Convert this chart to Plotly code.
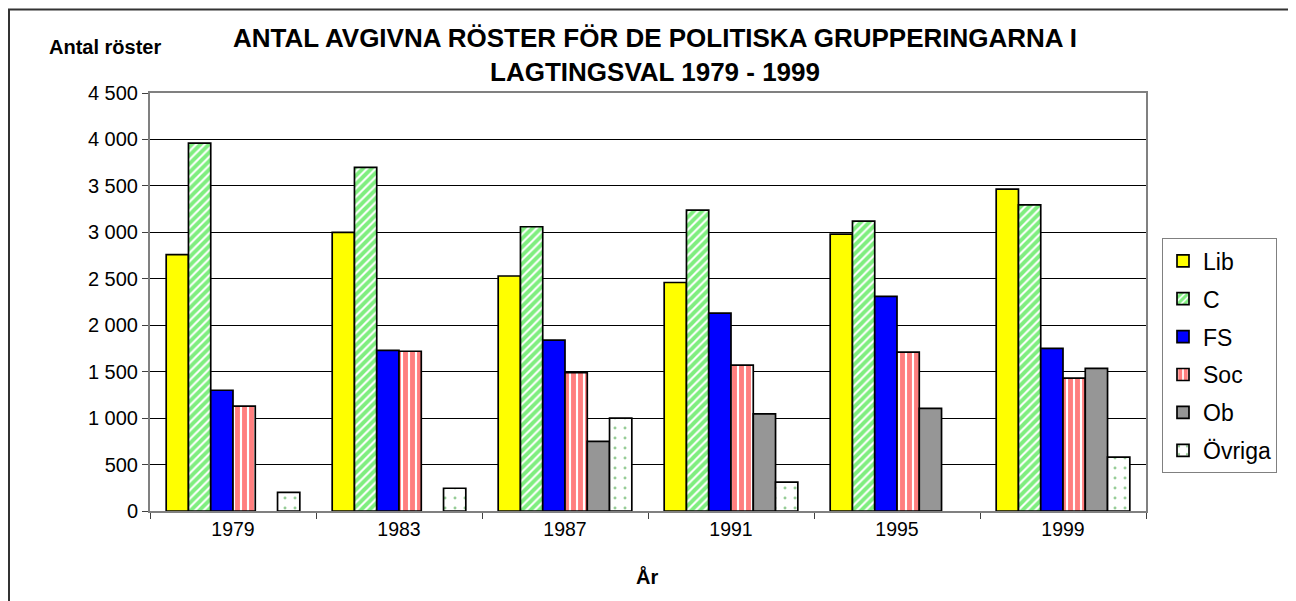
import plotly.graph_objects as go

years = ["1979", "1983", "1987", "1991", "1995", "1999"]
lib = [2760, 3000, 2530, 2460, 2980, 3465]
c = [3960, 3700, 3060, 3240, 3120, 3295]
fs = [1300, 1730, 1840, 2130, 2310, 1750]
soc = [1130, 1720, 1490, 1570, 1710, 1430]
ob = [None, None, 750, 1045, 1105, 1535]
ovriga = [200, 245, 1000, 310, None, 580]

y_tickvals = [0, 500, 1000, 1500, 2000, 2500, 3000, 3500, 4000, 4500]
y_ticktext = ["0", "500", "1 000", "1 500", "2 000", "2 500", "3 000", "3 500", "4 000", "4 500"]

FONT = "Liberation Sans, Arial, sans-serif"

series = [
    ("Lib", lib, dict(color="#FFFF00")),
    ("C", c, dict(color="#FFFFFF", pattern=dict(shape="/", fgcolor="#00DD00", bgcolor="#FFFFFF", size=6, solidity=0.65, fillmode="overlay"))),
    ("FS", fs, dict(color="#0000FF")),
    ("Soc", soc, dict(color="#FFFFFF", pattern=dict(shape="|", fgcolor="#FF0000", bgcolor="#FFFFFF", size=7, solidity=0.7, fillmode="overlay"))),
    ("Ob", ob, dict(color="#969696")),
    ("Övriga", ovriga, dict(color="#FFFFFF", pattern=dict(shape=".", fgcolor="#2E9A2E", bgcolor="#FFFFFF", size=10, solidity=0.07, fillmode="overlay"))),
]

fig = go.Figure()
for i, (name, vals, mk) in enumerate(series):
    mk = dict(mk)
    mk["line"] = dict(color="#000000", width=1.7)
    fig.add_trace(go.Bar(x=years, y=vals, name=name, marker=mk, legendgroup=f"g{i}"))

OFF = 8  # page body margin
W, H = 1296 - OFF, 601 - OFF
L, R, T, B = 150 - OFF, 1146 - OFF, 92.5 - OFF, 511 - OFF
pw, ph = R - L, B - T

def px_x(rx):
    return (rx - OFF - L) / pw

def px_y(ry):
    return (B - (ry - OFF)) / ph

fig.update_layout(
    width=W, height=H,
    margin=dict(l=L, r=W - R, t=T, b=H - B, pad=0),
    paper_bgcolor="white", plot_bgcolor="white",
    barmode="group", bargap=0.195, bargroupgap=0,
    font=dict(family=FONT, size=19.5, color="#000"),
    showlegend=True,
    legend=dict(
        x=px_x(1162), y=px_y(238), xanchor="left", yanchor="top",
        bgcolor="white", bordercolor="#808080", borderwidth=1,
        font=dict(family=FONT, size=23, color="#000"),
        traceorder="grouped", tracegroupgap=5,
        itemwidth=30,
    ),
    xaxis=dict(
        type="category", showgrid=False,
        showline=True, linecolor="#808080", linewidth=2, mirror=True,
        ticks="outside", tickson="boundaries", ticklen=6, tickcolor="#404040", tickwidth=1,
        tickfont=dict(family=FONT, size=19.5),
    ),
    yaxis=dict(
        range=[0, 4500], tickvals=y_tickvals, ticktext=y_ticktext,
        showgrid=True, gridcolor="#000000", gridwidth=1, zeroline=False,
        showline=True, linecolor="#808080", linewidth=2, mirror=True,
        ticks="outside", ticklen=6, tickcolor="#404040", tickwidth=1,
        tickfont=dict(family=FONT, size=20),
    ),
    annotations=[
        dict(text="<b>ANTAL AVGIVNA RÖSTER FÖR DE POLITISKA GRUPPERINGARNA I<br>LAGTINGSVAL 1979 - 1999</b>",
             xref="paper", yref="paper", x=px_x(655), y=px_y(54), xanchor="center", yanchor="middle",
             showarrow=False, font=dict(family=FONT, size=26), align="center"),
        dict(text="<b>Antal röster</b>", xref="paper", yref="paper", x=px_x(105), y=px_y(46),
             xanchor="center", yanchor="middle", showarrow=False, font=dict(family=FONT, size=20)),
        dict(text="<b>År</b>", xref="paper", yref="paper", x=px_x(647), y=px_y(577),
             xanchor="center", yanchor="middle", showarrow=False, font=dict(family=FONT, size=20)),
    ],
    shapes=[
        dict(type="rect", xref="paper", yref="paper",
             x0=px_x(OFF + 1), x1=px_x(1310), y0=px_y(615), y1=px_y(OFF + 1),
             line=dict(color="#333333", width=2), fillcolor="rgba(0,0,0,0)", layer="below"),
    ],
)

fig.write_html("out.html")
